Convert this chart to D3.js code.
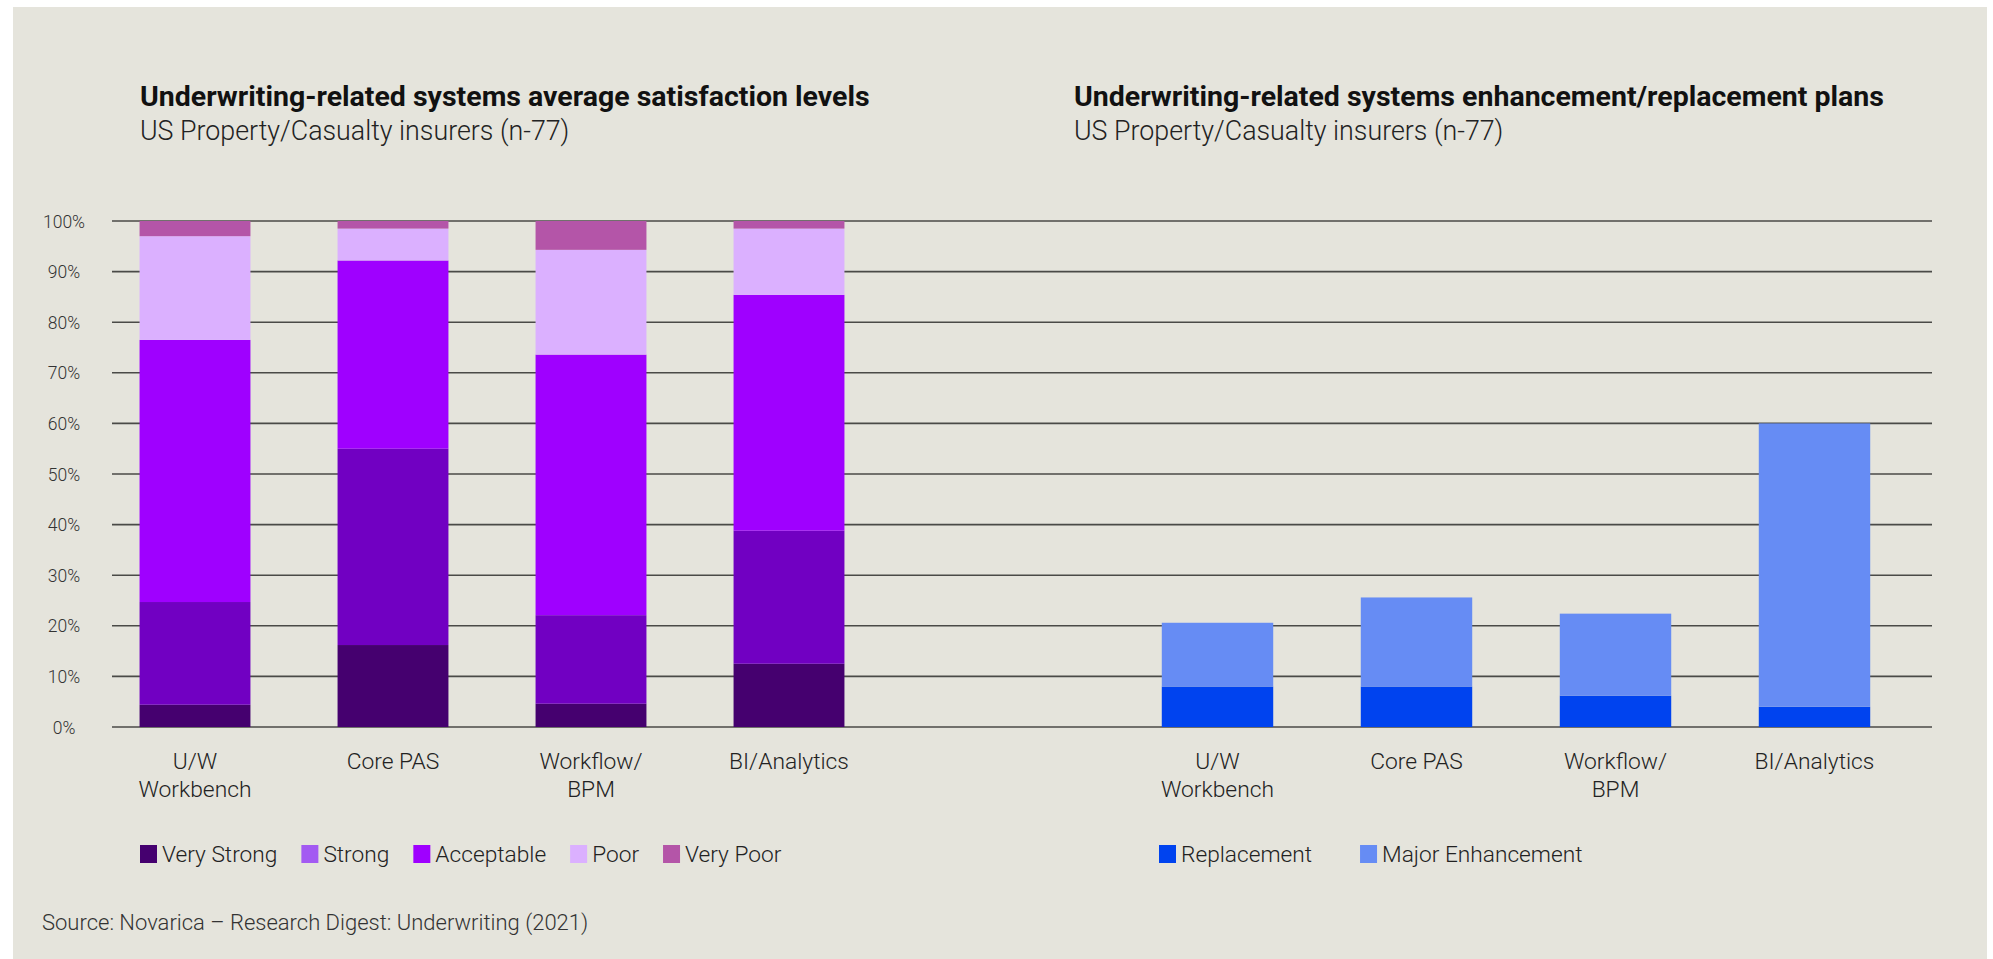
<!DOCTYPE html>
<html>
<head>
<meta charset="utf-8">
<script src="https://cdn.jsdelivr.net/npm/d3@7"></script>
<style>
  html, body { margin: 0; padding: 0; background: #ffffff; }
  svg { display: block; font-family: Roboto, "Noto Sans", sans-serif; }
</style>
</head>
<body>
<svg id="chart" width="1993" height="959"></svg>
<script>
// ---- Data ----
const categories = ["U/W\nWorkbench", "Core PAS", "Workflow/\nBPM", "BI/Analytics"];

const satisfactionKeys = ["Very Strong", "Strong", "Acceptable", "Poor", "Very Poor"];
const veryStrong = [4.4, 16.2, 4.6, 12.5];
const strong     = [20.3, 38.8, 17.5, 26.3];
const acceptable = [51.8, 37.2, 51.5, 46.6];
const poor       = [20.5, 6.3, 20.7, 13.1];
const veryPoor   = [3.0, 1.5, 5.7, 1.5];

const planKeys = ["Replacement", "Major Enhancement"];
const replacement      = [8.0, 8.0, 6.2, 4.0];
const majorEnhancement = [12.6, 17.6, 16.2, 56.0];

const yTicks = [0, 10, 20, 30, 40, 50, 60, 70, 80, 90, 100];

const leftTitle = "Underwriting-related systems average satisfaction levels";
const rightTitle = "Underwriting-related systems enhancement/replacement plans";
const subtitle = "US Property/Casualty insurers (n-77)";
const source = "Source: Novarica – Research Digest: Underwriting (2021)";

// ---- Styles ----
const satBarColors = ["#45006f", "#7100c2", "#9f00ff", "#dbb0ff", "#b455a8"];
const satLegendColors = ["#45006f", "#a35af2", "#9f00ff", "#dbb0ff", "#b455a8"];
const planColors = ["#0043ef", "#668cf4"];

const svg = d3.select("#chart");
svg.append("rect").attr("x", 13).attr("y", 7).attr("width", 1974).attr("height", 952).attr("fill", "#e5e4dc");

const y = d3.scaleLinear().domain([0, 100]).range([727, 221]);
const xL = d3.scaleBand().domain(categories).range([96, 888]).paddingInner(0.44).paddingOuter(0.22);
const xR = d3.scaleBand().domain(categories).range([1118, 1914]).paddingInner(0.44).paddingOuter(0.22);

// gridlines
const grid = svg.append("g");
grid.selectAll("line").data(yTicks).join("line")
  .attr("x1", 112).attr("x2", 1932)
  .attr("y1", d => y(d)).attr("y2", d => y(d))
  .attr("stroke", "#4a4a47").attr("stroke-width", 1.6);

// y tick labels
const yAxis = d3.axisLeft(y).tickValues(yTicks).tickFormat(d => d + "%").tickSize(0);
const yg = svg.append("g").attr("transform", "translate(84,0)").call(yAxis);
yg.select(".domain").remove();
yg.selectAll("text")
  .attr("x", -20).attr("dy", "0.35em")
  .attr("text-anchor", "middle")
  .attr("font-family", "Roboto, sans-serif")
  .attr("font-weight", 300)
  .attr("font-size", 17.5)
  .attr("fill", "#333");

// stacked bars - left
const satTable = categories.map((c, i) => ({
  cat: c,
  "Very Strong": veryStrong[i], "Strong": strong[i], "Acceptable": acceptable[i],
  "Poor": poor[i], "Very Poor": veryPoor[i]
}));
const satStack = d3.stack().keys(satisfactionKeys)(satTable);
svg.append("g").selectAll("g").data(satStack).join("g")
  .attr("fill", (d, i) => satBarColors[i])
  .selectAll("rect").data(d => d).join("rect")
  .attr("x", d => xL(d.data.cat))
  .attr("width", xL.bandwidth())
  .attr("y", d => y(d[1]))
  .attr("height", d => y(d[0]) - y(d[1]));

// stacked bars - right
const planTable = categories.map((c, i) => ({
  cat: c, "Replacement": replacement[i], "Major Enhancement": majorEnhancement[i]
}));
const planStack = d3.stack().keys(planKeys)(planTable);
svg.append("g").selectAll("g").data(planStack).join("g")
  .attr("fill", (d, i) => planColors[i])
  .selectAll("rect").data(d => d).join("rect")
  .attr("x", d => xR(d.data.cat))
  .attr("width", xR.bandwidth())
  .attr("y", d => y(d[1]))
  .attr("height", d => y(d[0]) - y(d[1]));

// category labels
function catLabels(scale) {
  const g = svg.append("g");
  categories.forEach(c => {
    const cx = scale(c) + scale.bandwidth() / 2;
    const t = g.append("text")
      .attr("x", cx)
      .attr("y", 769)
      .attr("text-anchor", "middle")
      .attr("font-weight", 300)
      .attr("font-size", 22.8)
      .attr("fill", "#222");
    c.split("\n").forEach((ln, k) => {
      t.append("tspan").attr("x", cx).attr("dy", k === 0 ? 0 : 28).text(ln);
    });
  });
}
catLabels(xL);
catLabels(xR);

// legends
function legend(keys, colors, x0, gap) {
  const g = svg.append("g");
  let x = x0;
  keys.forEach((k, i) => {
    g.append("rect").attr("x", x).attr("y", 845).attr("width", 17).attr("height", 18).attr("fill", colors[i]);
    const t = g.append("text").attr("x", x + 22).attr("y", 862)
      .attr("font-weight", 300).attr("font-size", 22.7).attr("fill", "#222").text(k);
    x += 22 + t.node().getComputedTextLength() + gap;
  });
}
legend(satisfactionKeys, satLegendColors, 140, 24);
legend(planKeys, planColors, 1159, 48);

// titles
function titles(x, title) {
  svg.append("text").attr("x", x).attr("y", 106)
    .attr("font-weight", 700).attr("font-size", 28.5).attr("fill", "#111").text(title);
  svg.append("text").attr("x", x).attr("y", 140)
    .attr("font-weight", 300).attr("font-size", 26.8).attr("fill", "#222").text(subtitle);
}
titles(140, leftTitle);
titles(1074, rightTitle);

svg.append("text").attr("x", 42).attr("y", 930)
  .attr("font-weight", 300).attr("font-size", 22).attr("fill", "#333").text(source);
</script>
</body>
</html>
